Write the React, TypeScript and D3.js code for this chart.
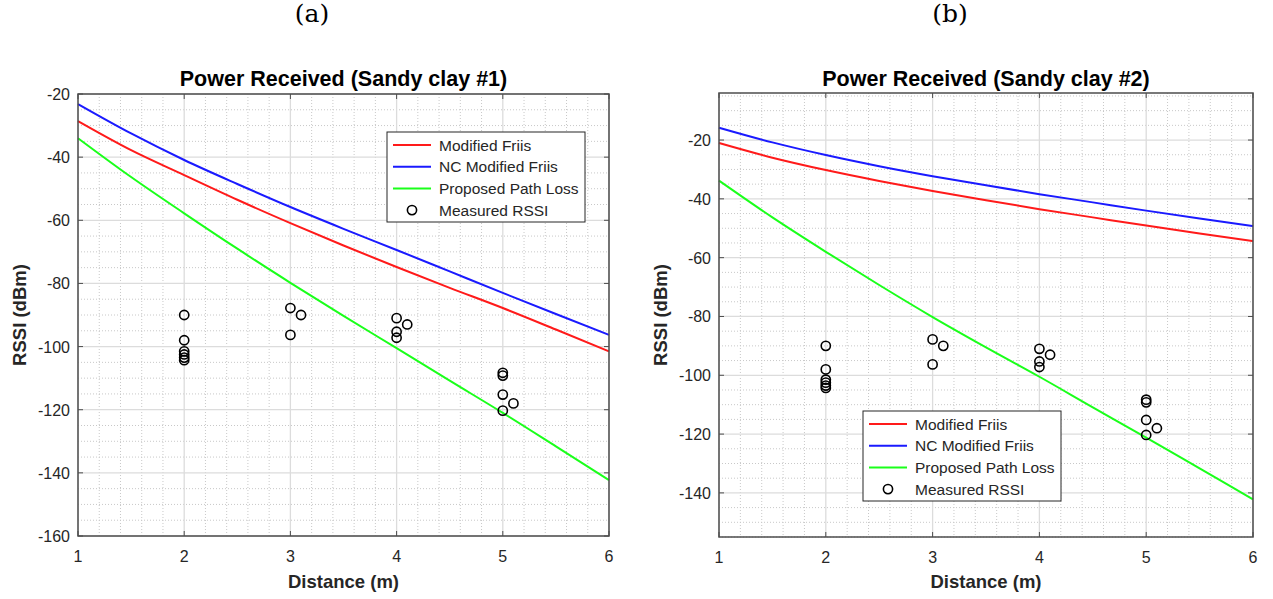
import React from "react";
import * as d3 from "d3";

const width = 1273;
const height = 599;

// distances where curve values were read (m)
const distance = [1, 1.5, 2, 2.5, 3, 3.5, 4, 4.5, 5, 5.5, 6];

// panel (a) Sandy clay #1
const friisA = [-28.6, -37.8, -45.7, -53.5, -60.9, -68.0, -74.8, -81.4, -87.8, -94.6, -101.5];
const ncFriisA = [-23.2, -32.5, -40.9, -48.5, -55.8, -62.7, -69.4, -76.2, -83.0, -89.7, -96.3];
const proposedA = [-34.0, -46.3, -57.8, -69.0, -79.8, -90.3, -100.5, -110.8, -121.0, -131.6, -142.3];

// panel (b) Sandy clay #2
const friisB = [-21.0, -26.0, -30.2, -33.9, -37.3, -40.5, -43.5, -46.3, -49.1, -51.8, -54.4];
const ncFriisB = [-15.8, -20.8, -25.1, -28.9, -32.3, -35.4, -38.4, -41.2, -44.0, -46.7, -49.3];
const proposedB = [-33.8, -46.3, -58.0, -69.3, -80.2, -90.5, -100.5, -110.9, -121.2, -131.7, -142.2];

// measured RSSI (same in both panels)
const measuredDist = [2, 2, 2, 2, 2, 2, 3, 3.1, 3, 4, 4.1, 4, 4, 5, 5, 5, 5.1, 5];
const measuredRssi = [-90, -98, -101.5, -102.5, -103.5, -104.3, -87.8, -90, -96.3, -91, -93, -95.3, -97.2, -108.3, -109.2, -115.2, -118, -120.3];

const seriesNames = ["Modified Friis", "NC Modified Friis", "Proposed Path Loss", "Measured RSSI"];
const seriesColors = ["#ff1a1a", "#1a1aff", "#1aff1a"];

const axisColor = "#4d4d4d";
const textColor = "#262626";
const font = "Liberation Sans, Arial, sans-serif";

type PanelProps = {
  label: string;
  labelX: number;
  title: string;
  left: number;
  right: number;
  top: number;
  bottom: number;
  yDomain: [number, number];
  yTicks: number[];
  curves: number[][];
  legend: { x: number; y: number };
  yLabelX: number;
};

function Panel(p: PanelProps) {
  const x = d3.scaleLinear().domain([1, 6]).range([p.left, p.right]);
  const y = d3.scaleLinear().domain(p.yDomain).range([p.bottom, p.top]);

  const xMinor = d3.range(1, 6.001, 0.2).filter(v => Math.abs(v - Math.round(v)) > 0.01);
  const yMinor = d3.range(Math.ceil(p.yDomain[0] / 5) * 5, p.yDomain[1] + 0.01, 5).filter(v => v % 20 !== 0);
  const xTicks = [1, 2, 3, 4, 5, 6];

  const line = d3
    .line<number>()
    .x((_, i) => x(distance[i]))
    .y(d => y(d))
    .curve(d3.curveMonotoneX);

  const lw = 198;
  const lh = 90;

  return (
    <g>
      <text x={p.labelX} y={22} textAnchor="middle" fontFamily="DejaVu Serif, Liberation Serif, serif" fontSize={25} fill="#000">
        {p.label}
      </text>
      <rect x={p.left} y={p.top} width={p.right - p.left} height={p.bottom - p.top} fill="#fff" />
      {/* minor grid */}
      {xMinor.map(v => (
        <line key={"xm" + v} x1={x(v)} x2={x(v)} y1={p.top} y2={p.bottom} stroke="#c8c8c8" strokeWidth={1} strokeDasharray="1,2" />
      ))}
      {yMinor.map(v => (
        <line key={"ym" + v} x1={p.left} x2={p.right} y1={y(v)} y2={y(v)} stroke="#c8c8c8" strokeWidth={1} strokeDasharray="1,2" />
      ))}
      {/* major grid */}
      {xTicks.map(v => (
        <line key={"xg" + v} x1={x(v)} x2={x(v)} y1={p.top} y2={p.bottom} stroke="#dcdcdc" strokeWidth={1.3} />
      ))}
      {p.yTicks.map(v => (
        <line key={"yg" + v} x1={p.left} x2={p.right} y1={y(v)} y2={y(v)} stroke="#dcdcdc" strokeWidth={1.3} />
      ))}
      {/* curves */}
      {p.curves.map((c, i) => (
        <path key={"c" + i} d={line(c) || ""} fill="none" stroke={seriesColors[i]} strokeWidth={2} />
      ))}
      {/* measured */}
      {measuredDist.map((d, i) => (
        <circle key={"m" + i} cx={x(d)} cy={y(measuredRssi[i])} r={4.6} fill="none" stroke="#000" strokeWidth={1.6} />
      ))}
      {/* box */}
      <rect x={p.left} y={p.top} width={p.right - p.left} height={p.bottom - p.top} fill="none" stroke={axisColor} strokeWidth={1.5} />
      {/* ticks */}
      {xTicks.map(v => (
        <g key={"xt" + v}>
          <line x1={x(v)} x2={x(v)} y1={p.bottom} y2={p.bottom - 5} stroke={axisColor} />
          <line x1={x(v)} x2={x(v)} y1={p.top} y2={p.top + 5} stroke={axisColor} />
          <text x={x(v)} y={p.bottom + 26} textAnchor="middle" fontFamily={font} fontSize={16} fill={textColor}>
            {v}
          </text>
        </g>
      ))}
      {p.yTicks.map(v => (
        <g key={"yt" + v}>
          <line x1={p.left} x2={p.left + 5} y1={y(v)} y2={y(v)} stroke={axisColor} />
          <line x1={p.right} x2={p.right - 5} y1={y(v)} y2={y(v)} stroke={axisColor} />
          <text x={p.left - 8} y={y(v) + 6} textAnchor="end" fontFamily={font} fontSize={16} fill={textColor}>
            {v}
          </text>
        </g>
      ))}
      <text x={(p.left + p.right) / 2} y={86} textAnchor="middle" fontFamily={font} fontSize={21.5} fontWeight="bold" fill="#000">
        {p.title}
      </text>
      <text x={(p.left + p.right) / 2} y={588} textAnchor="middle" fontFamily={font} fontSize={18.5} fontWeight="bold" fill={textColor}>
        Distance (m)
      </text>
      <text
        transform={`translate(${p.yLabelX},${(p.top + p.bottom) / 2}) rotate(-90)`}
        textAnchor="middle"
        fontFamily={font}
        fontSize={18.5}
        fontWeight="bold"
        fill={textColor}
      >
        RSSI (dBm)
      </text>
      {/* legend */}
      <g transform={`translate(${p.legend.x},${p.legend.y})`}>
        <rect x={0} y={0} width={lw} height={lh} fill="#fff" stroke={textColor} strokeWidth={1} />
        {seriesNames.map((name, i) => (
          <g key={name} transform={`translate(0,${13 + i * 21.7})`}>
            {i < 3 ? (
              <line x1={6} x2={44} y1={0} y2={0} stroke={seriesColors[i]} strokeWidth={2} />
            ) : (
              <circle cx={25} cy={0} r={4.6} fill="none" stroke="#000" strokeWidth={1.6} />
            )}
            <text x={52} y={5.5} fontFamily={font} fontSize={15.5} fill={textColor}>
              {name}
            </text>
          </g>
        ))}
      </g>
    </g>
  );
}

export default function App() {
  return (
    <svg width={width} height={height} style={{ position: "absolute", left: 0, top: 0, background: "#fff" }}>
      <rect width={width} height={height} fill="#fff" />
      <Panel
        label="(a)"
        labelX={312}
        title="Power Received (Sandy clay #1)"
        left={78}
        right={609}
        top={94}
        bottom={536}
        yDomain={[-160, -20]}
        yTicks={[-160, -140, -120, -100, -80, -60, -40, -20]}
        curves={[friisA, ncFriisA, proposedA]}
        legend={{ x: 387, y: 132 }}
        yLabelX={26}
      />
      <Panel
        label="(b)"
        labelX={950}
        title="Power Received (Sandy clay #2)"
        left={719}
        right={1253}
        top={93}
        bottom={537}
        yDomain={[-155, -4]}
        yTicks={[-140, -120, -100, -80, -60, -40, -20]}
        curves={[friisB, ncFriisB, proposedB]}
        legend={{ x: 863, y: 411 }}
        yLabelX={667}
      />
    </svg>
  );
}
